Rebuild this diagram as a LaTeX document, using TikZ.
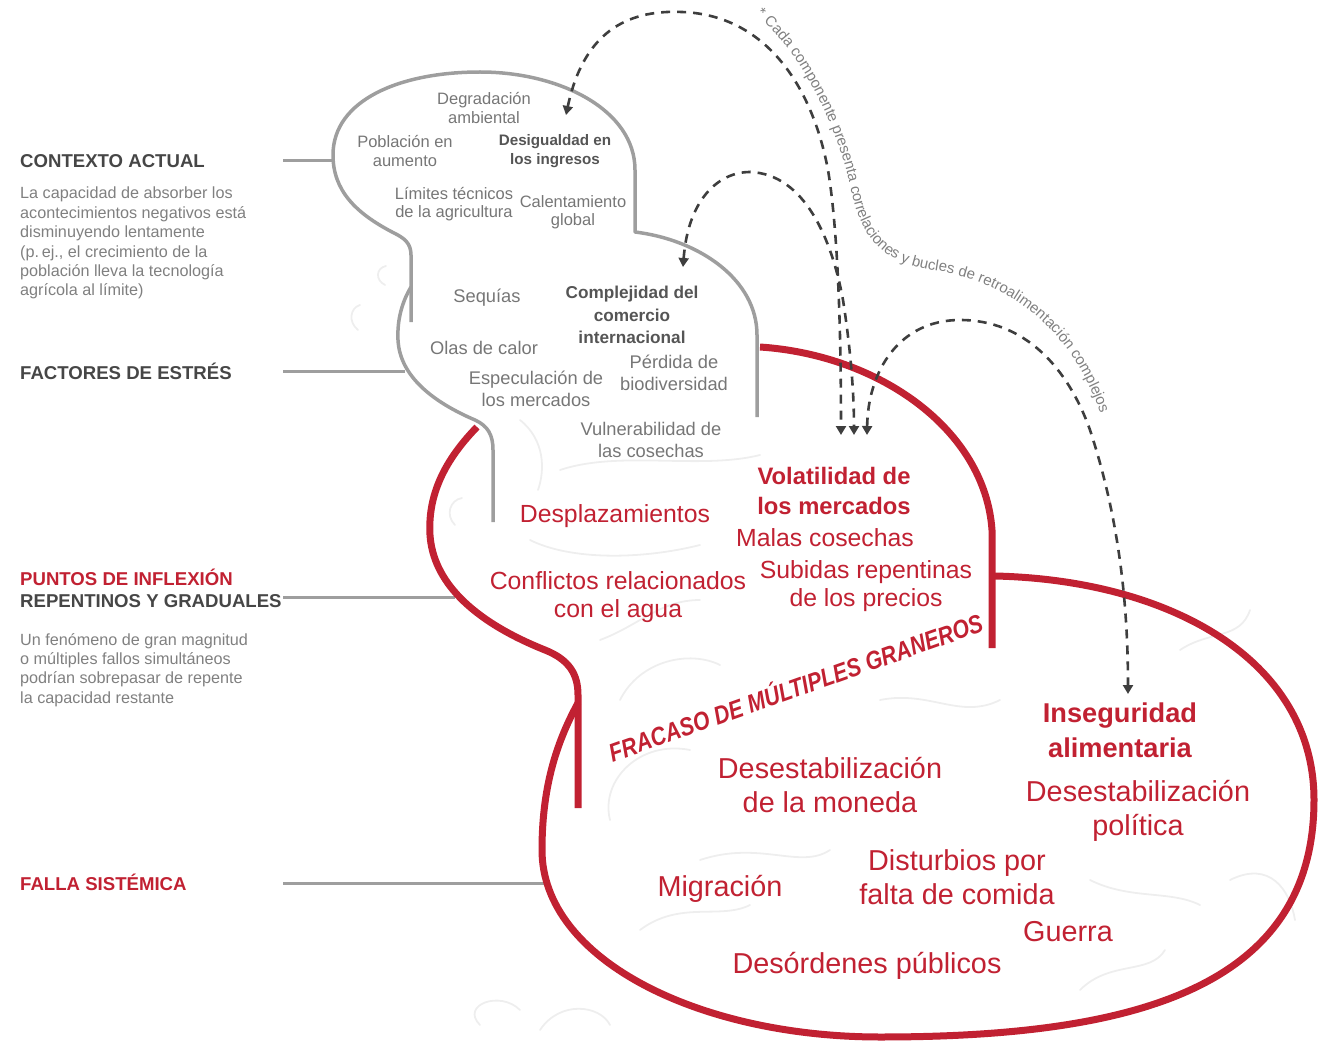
\documentclass[tikz,border=0pt]{standalone}
\usepackage{fontspec}
\setmainfont{Liberation Sans}
\usetikzlibrary{arrows.meta,decorations.text}
\definecolor{granred}{RGB}{193,33,50}
\definecolor{shellgray}{RGB}{158,158,158}
\definecolor{itemgray}{RGB}{118,118,118}
\definecolor{itemdark}{RGB}{85,85,85}
\definecolor{headdark}{RGB}{70,70,70}
\definecolor{notegray}{RGB}{128,128,128}
\definecolor{loopgray}{RGB}{62,62,62}
\definecolor{foldgray}{RGB}{238,238,238}

\tikzset{
  shell/.style={draw=shellgray, line width=3.5pt, line join=round},
  redshell/.style={draw=granred, line width=7pt, line join=round},
  leader/.style={draw=shellgray, line width=3pt},
  fold/.style={draw=foldgray, line width=1.8pt, line cap=round},
  loop/.style={draw=loopgray, line width=2.6pt, dash pattern=on 9pt off 7pt,
    {Triangle[width=10pt,length=9pt]}-{Triangle[width=10pt,length=9pt]}},
  head/.style={font=\bfseries\fontsize{18.6}{21}\selectfont, text=headdark, anchor=west, inner sep=0pt},
  note/.style={font=\fontsize{16.2}{19.4}\selectfont, text=notegray, anchor=north west, align=left, inner sep=0pt},
  topitem/.style={font=\fontsize{16.5}{18.5}\selectfont, text=itemgray, align=center, inner sep=0pt},
  topkey/.style={font=\bfseries\fontsize{15.2}{19}\selectfont, text=itemdark, align=center, inner sep=0pt},
  stressitem/.style={font=\fontsize{18.3}{21.5}\selectfont, text=itemgray, align=center, inner sep=0pt},
  stresskey/.style={font=\bfseries\fontsize{17.2}{22.5}\selectfont, text=itemdark, align=center, inner sep=0pt},
  reditem/.style={font=\fontsize{24.8}{28.5}\selectfont, text=granred, align=center, inner sep=0pt},
  redkey/.style={font=\bfseries\fontsize{23.8}{29.5}\selectfont, text=granred, align=center, inner sep=0pt},
  failitem/.style={font=\fontsize{28.8}{34}\selectfont, text=granred, align=center, inner sep=0pt},
  failkey/.style={font=\bfseries\fontsize{27.2}{35}\selectfont, text=granred, align=center, inner sep=0pt}
}

\begin{document}
\begin{tikzpicture}[x=1pt, y=-1pt]
    \useasboundingbox (0,0) rectangle (1326,1043);

    % faint folds in the background
    \draw[fold] (358,330) .. controls (348,322) and (350,308) .. (360,305);
    \draw[fold] (385,285) .. controls (375,280) and (376,268) .. (386,266);
    \draw[fold] (455,525) .. controls (445,515) and (450,500) .. (462,498);
    \draw[fold] (520,420) .. controls (545,440) and (545,470) .. (538,490);
    \draw[fold] (560,470) .. controls (620,450) and (700,470) .. (760,455);
    \draw[fold] (530,540) .. controls (570,560) and (640,560) .. (700,545);
    \draw[fold] (600,640) .. controls (640,625) and (660,600) .. (700,600);
    \draw[fold] (620,700) .. controls (640,660) and (690,650) .. (720,665);
    \draw[fold] (610,820) .. controls (600,780) and (640,740) .. (690,750);
    \draw[fold] (700,860) .. controls (760,840) and (800,870) .. (830,850);
    \draw[fold] (880,700) .. controls (930,690) and (960,720) .. (1000,700);
    \draw[fold] (1180,650) .. controls (1210,630) and (1240,640) .. (1250,610);
    \draw[fold] (1230,880) .. controls (1270,860) and (1290,890) .. (1295,920);
    \draw[fold] (1090,880) .. controls (1130,900) and (1170,890) .. (1200,905);
    \draw[fold] (640,930) .. controls (680,900) and (720,920) .. (750,905);
    \draw[fold] (480,1025) .. controls (460,1005) and (500,990) .. (520,1010);
    \draw[fold] (540,1030) .. controls (560,1000) and (600,1005) .. (610,1025);
    \draw[fold] (1080,990) .. controls (1110,960) and (1150,975) .. (1165,950);

    % left column: headings and notes
    \node[head] (ctxhead) at (20,161) {CONTEXTO ACTUAL};
    \node[note] (ctxnote) at (20,187) {La capacidad de absorber los\\acontecimientos negativos está\\disminuyendo lentamente\\(p.\,ej., el crecimiento de la\\población lleva la tecnología\\agrícola al límite)};
    \node[head] (stresshead) at (20,371) {FACTORES DE ESTRÉS};
    \node[head, text=granred] (tiphead) at (20,577) {PUNTOS DE INFLEXIÓN};
    \node[head] (tiphead2) at (20,601) {REPENTINOS Y GRADUALES};
    \node[note] (tipnote) at (20,633) {Un fenómeno de gran magnitud\\o múltiples fallos simultáneos\\podrían sobrepasar de repente\\la capacidad restante};
    \node[head, text=granred] (failhead) at (20,882) {FALLA SISTÉMICA};

    % leader lines to the shells
    \coordinate (ctxfoot) at (283,161);   \coordinate (ctxedge) at (335,161);
    \coordinate (stressfoot) at (283,371); \coordinate (stressedge) at (405,371);
    \coordinate (tipfoot) at (283,597);    \coordinate (tipedge) at (455,597);
    \coordinate (failfoot) at (283,883);   \coordinate (failedge) at (548,883);
    \draw[leader] (ctxfoot) -- (ctxedge);
    \draw[leader] (stressfoot) -- (stressedge);
    \draw[leader] (tipfoot) -- (tipedge);
    \draw[leader] (failfoot) -- (failedge);

    % grey shells: current context and stress factors
    \draw[shell] (411,322) -- (411,255) .. controls (411,243) and (404,238) .. (394,233)
        .. controls (355,213) and (333,190) .. (333,155)
        .. controls (333,100) and (400,72) .. (480,72)
        .. controls (560,72) and (635,110) .. (635,170) -- (635,232)
        .. controls (700,240) and (757,280) .. (757,335) -- (757,417);
    \draw[shell] (411,287) .. controls (402,302) and (397,320) .. (398,340)
        .. controls (400,380) and (440,405) .. (475,420)
        .. controls (488,426) and (493,435) .. (493,450) -- (493,522);

    % red shells: tipping points and systemic failure
    \draw[redshell] (477,427) .. controls (440,465) and (428,500) .. (430,535)
        .. controls (433,580) and (470,620) .. (545,650)
        .. controls (570,660) and (578,675) .. (578,695) -- (578,808);
    \draw[redshell] (760,347) .. controls (880,355) and (985,430) .. (992,530) -- (992,648);
    \draw[redshell] (578,703) .. controls (555,745) and (542,790) .. (542,850)
        .. controls (542,960) and (700,1037) .. (880,1037)
        .. controls (1130,1037) and (1314,990) .. (1314,800)
        .. controls (1314,660) and (1170,580) .. (995,576);

    % current context
    \node[topitem] (degr) at (484,108) {Degradación\\ambiental};
    \node[topitem] (pobl) at (405,151) {Población en\\aumento};
    \node[topkey] (desig) at (555,151) {Desigualdad en\\los ingresos};
    \node[topitem] (limit) at (454,204) {Límites técnicos\\de la agricultura};
    \node[topitem] (calent) at (573,212) {Calentamiento\\global};

    % stress factors
    \node[stressitem] (sequ) at (487,298) {Sequías};
    \node[stresskey] (compl) at (632,315) {Complejidad del\\comercio\\internacional};
    \node[stressitem] (olas) at (484,348) {Olas de calor};
    \node[stressitem] (espec) at (536,389) {Especulación de\\los mercados};
    \node[stressitem] (perd) at (674,373) {Pérdida de\\biodiversidad};
    \node[stressitem] (vuln) at (651,440) {Vulnerabilidad de\\las cosechas};

    % tipping points
    \node[redkey] (volat) at (834,491) {Volatilidad de\\los mercados};
    \node[reditem] (despl) at (615,516) {Desplazamientos};
    \node[reditem] (malas) at (825,538) {Malas cosechas};
    \node[reditem] (confl) at (618,597) {Conflictos relacionados\\con el agua};
    \node[reditem] (subid) at (866,586) {Subidas repentinas\\de los precios};
    \node[font=\bfseries\itshape\fontsize{21.3}{21.3}\selectfont, text=granred, rotate=19.5, inner sep=0pt] (fracaso) at (795,686) {\scalebox{1}[1.2]{FRACASO DE MÚLTIPLES GRANEROS}};

    % systemic failure
    \node[failkey] (insegu) at (1120,730) {Inseguridad\\alimentaria};
    \node[failitem] (desmon) at (830,785) {Desestabilización\\de la moneda};
    \node[failitem] (despol) at (1138,811) {Desestabilización\\política};
    \node[failitem] (migr) at (720,889) {Migración};
    \node[failitem] (distur) at (957,877) {Disturbios por\\falta de comida};
    \node[failitem] (guerra) at (1068,932) {Guerra};
    \node[failitem] (desord) at (867,966) {Desórdenes públicos};

    % feedback loops
    \coordinate (ineqtip) at (566,115);
    \coordinate (tradetip) at (683,267);
    \coordinate (voltipa) at (841,435);
    \coordinate (voltipb) at (854,435);
    \coordinate (voltipc) at (867,435);
    \coordinate (foodtip) at (1128,694);
    \draw[loop] (ineqtip) .. controls (585,25) and (635,10) .. (682,12)
        .. controls (765,15) and (812,85) .. (828,170)
        .. controls (838,230) and (841,330) .. (voltipa);
    \draw[loop] (tradetip) .. controls (688,200) and (718,172) .. (750,172)
        .. controls (805,174) and (832,240) .. (843,300)
        .. controls (850,345) and (854,390) .. (voltipb);
    \draw[loop] (voltipc) .. controls (868,370) and (900,320) .. (960,320)
        .. controls (1025,320) and (1068,368) .. (1090,430)
        .. controls (1118,515) and (1128,600) .. (foodtip);

    % note along the loops
    \path[decorate, decoration={text along path, text align=left,
        text={|\fontsize{15}{15}\selectfont\color{notegray}|* Cada componente presenta correlaciones y bucles de retroalimentación complejos}}]
        (756,15) .. controls (801,52) and (837,124) .. (852,194)
        .. controls (862,238) and (882,262) .. (932,270)
        .. controls (1002,280) and (1070,322) .. (1102,418);
\end{tikzpicture}
\end{document}
